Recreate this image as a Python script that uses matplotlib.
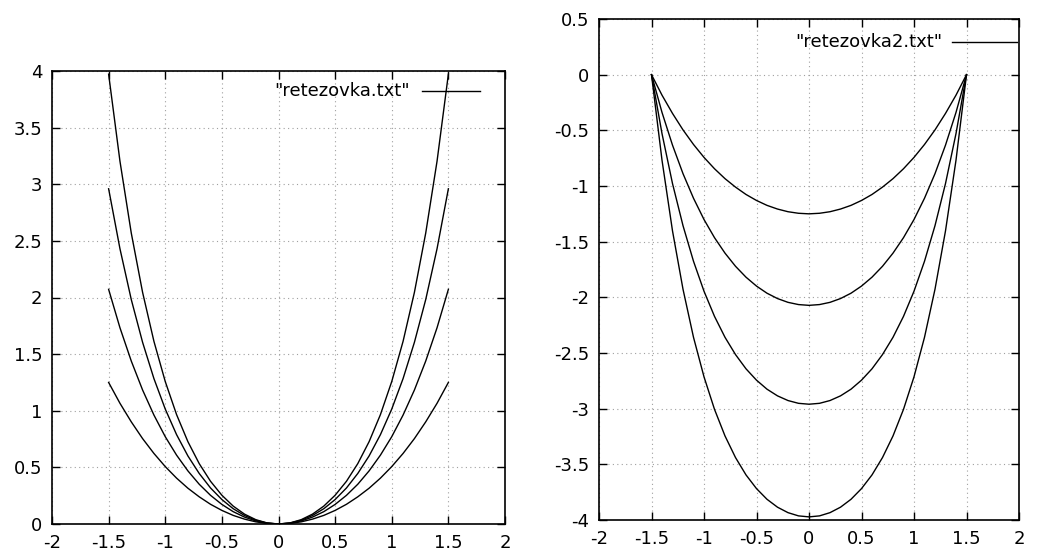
import matplotlib
matplotlib.use("Agg")
import matplotlib.pyplot as plt
from matplotlib.lines import Line2D

# --- Data (x step 0.1 from -1.5 to 1.5) ---
x_vals = [-1.5, -1.4, -1.3, -1.2, -1.1, -1.0, -0.9, -0.8, -0.7, -0.6, -0.5,
          -0.4, -0.3, -0.2, -0.1, 0.0, 0.1, 0.2, 0.3, 0.4, 0.5,
          0.6, 0.7, 0.8, 0.9, 1.0, 1.1, 1.2, 1.3, 1.4, 1.5]

# retezovka.txt : four chains hanging from y=0 at x=0
chain1 = [1.250, 1.066, 0.902, 0.754, 0.623, 0.507, 0.405, 0.316, 0.240, 0.174, 0.120,
          0.076, 0.043, 0.019, 0.005, 0.000, 0.005, 0.019, 0.043, 0.076, 0.120,
          0.174, 0.240, 0.316, 0.405, 0.507, 0.623, 0.754, 0.902, 1.066, 1.250]
chain2 = [2.072, 1.733, 1.439, 1.183, 0.962, 0.771, 0.608, 0.469, 0.351, 0.253, 0.173,
          0.109, 0.061, 0.027, 0.007, 0.000, 0.007, 0.027, 0.061, 0.109, 0.173,
          0.253, 0.351, 0.469, 0.608, 0.771, 0.962, 1.183, 1.439, 1.733, 2.072]
chain3 = [2.960, 2.431, 1.982, 1.604, 1.284, 1.015, 0.789, 0.601, 0.446, 0.318, 0.216,
          0.135, 0.075, 0.033, 0.008, 0.000, 0.008, 0.033, 0.075, 0.135, 0.216,
          0.318, 0.446, 0.601, 0.789, 1.015, 1.284, 1.604, 1.982, 2.431, 2.960]
chain4 = [3.972, 3.204, 2.569, 2.045, 1.613, 1.258, 0.966, 0.727, 0.533, 0.377, 0.254,
          0.158, 0.087, 0.038, 0.009, 0.000, 0.009, 0.038, 0.087, 0.158, 0.254,
          0.377, 0.533, 0.727, 0.966, 1.258, 1.613, 2.045, 2.569, 3.204, 3.972]

# retezovka2.txt : same chains, hung from the points (+-1.5, 0)
hang1 = [0.000, -0.184, -0.348, -0.496, -0.627, -0.743, -0.845, -0.934, -1.010, -1.076, -1.130,
         -1.174, -1.207, -1.231, -1.245, -1.250, -1.245, -1.231, -1.207, -1.174, -1.130,
         -1.076, -1.010, -0.934, -0.845, -0.743, -0.627, -0.496, -0.348, -0.184, 0.000]
hang2 = [0.000, -0.339, -0.633, -0.889, -1.110, -1.301, -1.464, -1.603, -1.721, -1.819, -1.899,
         -1.963, -2.011, -2.045, -2.065, -2.072, -2.065, -2.045, -2.011, -1.963, -1.899,
         -1.819, -1.721, -1.603, -1.464, -1.301, -1.110, -0.889, -0.633, -0.339, 0.000]
hang3 = [0.000, -0.529, -0.978, -1.356, -1.676, -1.945, -2.171, -2.359, -2.514, -2.642, -2.744,
         -2.825, -2.885, -2.927, -2.952, -2.960, -2.952, -2.927, -2.885, -2.825, -2.744,
         -2.642, -2.514, -2.359, -2.171, -1.945, -1.676, -1.356, -0.978, -0.529, 0.000]
hang4 = [0.000, -0.768, -1.403, -1.927, -2.359, -2.714, -3.006, -3.245, -3.439, -3.595, -3.718,
         -3.814, -3.885, -3.934, -3.963, -3.972, -3.963, -3.934, -3.885, -3.814, -3.718,
         -3.595, -3.439, -3.245, -3.006, -2.714, -2.359, -1.927, -1.403, -0.768, 0.000]

x_ticks = [-2, -1.5, -1, -0.5, 0, 0.5, 1, 1.5, 2]
left_yticks = [0, 0.5, 1, 1.5, 2, 2.5, 3, 3.5, 4]
right_yticks = [-4, -3.5, -3, -2.5, -2, -1.5, -1, -0.5, 0, 0.5]

W, H = 1053, 556
FS = 13


def style_axes(ax, yticks):
    ax.set_xticks(x_ticks)
    ax.set_xticklabels(["%g" % v for v in x_ticks])
    ax.set_yticks(yticks)
    ax.set_yticklabels(["%g" % v for v in yticks])
    ax.tick_params(direction="in", length=6, width=1, top=True, right=True,
                   labelsize=FS, pad=7, colors="black")
    ax.grid(True, color="#a0a0a0", linestyle=(0, (1, 3)), linewidth=0.8)
    for sp in ax.spines.values():
        sp.set_linewidth(1.2)


def legend_entry(ax, label, text_right, line_x0, line_x1, y):
    # gnuplot style key: right aligned text followed by a line sample
    ax.text(text_right, y, label, transform=ax.transAxes, ha="right",
            va="center", fontsize=FS)
    ax.add_line(Line2D([line_x0, line_x1], [y, y], transform=ax.transAxes,
                       color="black", linewidth=1))


fig = plt.figure(figsize=(W / 100, H / 100), dpi=100)

# left panel: frame approx x 52..505, y 71..524 px
ax1 = fig.add_axes([52 / W, 1 - 524 / H, 453 / W, 453 / H])
for ys in (chain1, chain2, chain3, chain4):
    ax1.plot(x_vals, ys, color="black", linewidth=1)
ax1.set_xlim(-2, 2)
ax1.set_ylim(0, 4)
style_axes(ax1, left_yticks)
legend_entry(ax1, '"retezovka.txt"', 0.790, 0.817, 0.945, 0.956)

# right panel: frame approx x 599..1019, y 19..520 px
ax2 = fig.add_axes([599 / W, 1 - 520 / H, 420 / W, 501 / H])
for ys in (hang1, hang2, hang3, hang4):
    ax2.plot(x_vals, ys, color="black", linewidth=1)
ax2.set_xlim(-2, 2)
ax2.set_ylim(-4, 0.5)
style_axes(ax2, right_yticks)
legend_entry(ax2, '"retezovka2.txt"', 0.817, 0.840, 0.995, 0.955)

fig.savefig("out.png", dpi=100)
